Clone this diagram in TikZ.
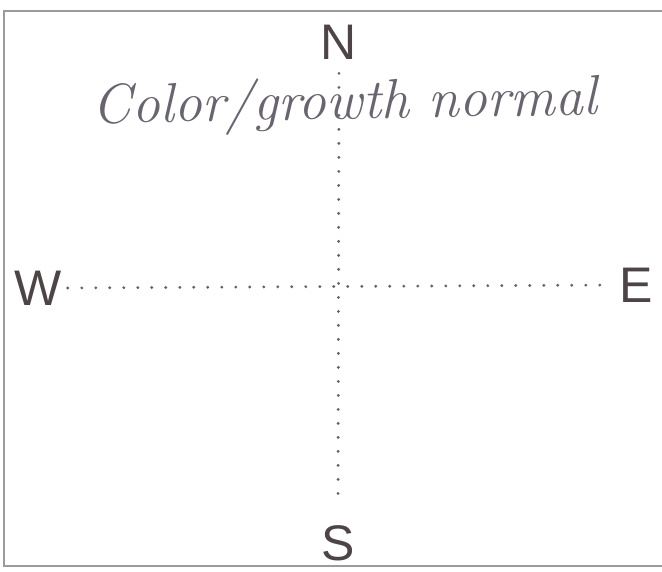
\documentclass[tikz,border=0pt]{standalone}
\usepackage{fontspec}
\newfontfamily\compassfont{Liberation Sans}
\definecolor{inkgray}{HTML}{4D4446}
\definecolor{pengray}{HTML}{6A6470}
\definecolor{framegray}{HTML}{9C9A9C}
\definecolor{dotgray}{HTML}{66626A}

\begin{document}
\begin{tikzpicture}[
    x=1pt, y=1pt,
    point/.style={inner sep=0pt, text=inkgray, font=\compassfont\fontsize{50}{50}\selectfont},
    dotline/.style={dotgray, line width=3.2pt, line cap=round, dash pattern=on 0pt off 14pt},
    frame/.style={framegray, line width=1.6pt},
    note/.style={inner sep=0pt, text=pengray, font=\itshape\fontsize{56}{56}\selectfont}
]
\clip (0,0) rectangle (662,571);

% Frame
\draw[frame] (4,5) rectangle (690,560);

% Compass points
\node[point] (north) at (339,529) {N};
\node[point] (south) at (338,28) {S};
\node[point] (west) at (38,283) {W};
\node[point] (east) at (636,286) {E};

% Dotted axes
\draw[dotline] ([xshift=6pt]west.east) -- ([xshift=-7pt]east.west);
\draw[dotline] ([yshift=-14pt]north.south) -- ([yshift=18pt]south.north);

% Handwritten remark
\node[note, rotate=1] (remark) at (345,466) {Color/growth normal};

\end{tikzpicture}
\end{document}
